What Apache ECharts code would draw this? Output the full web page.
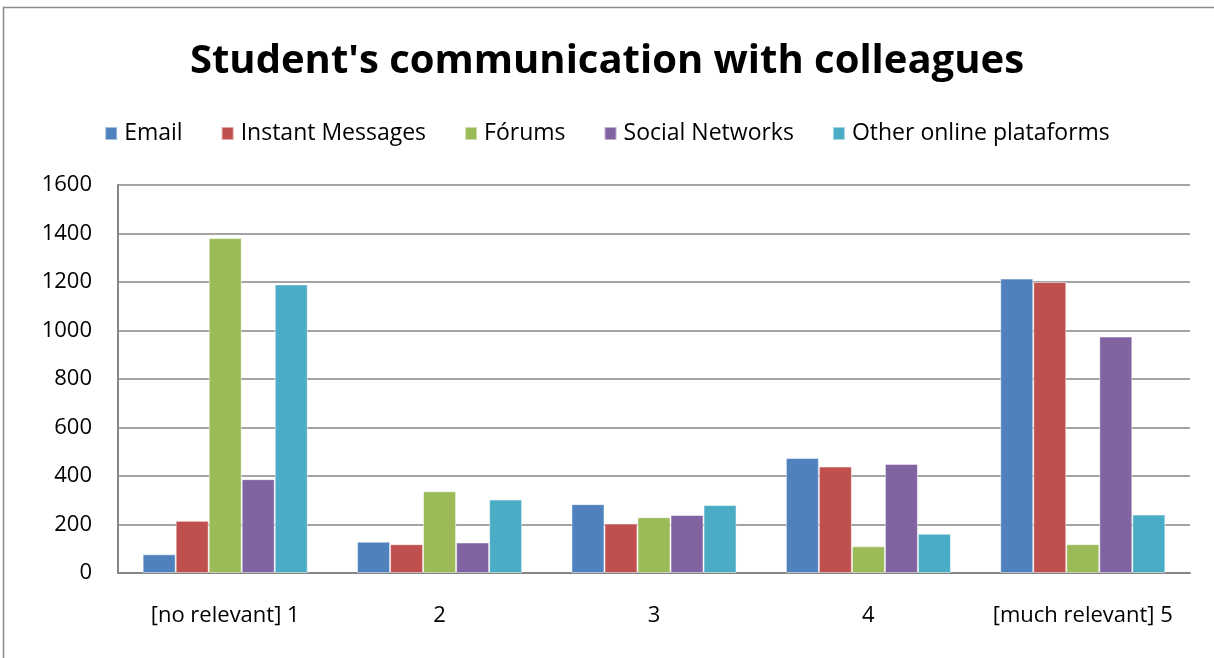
<!DOCTYPE html>
<html>
<head>
<meta charset="utf-8">
<script src="https://cdn.jsdelivr.net/npm/echarts@6/dist/echarts.min.js"></script>
<style>
  html, body { margin: 0; padding: 0; background: #fff; }
  #chart { width: 1214px; height: 658px; }
</style>
</head>
<body>
<div id="chart"></div>
<script>
// Relevance scale (1 = not relevant ... 5 = very relevant)
const categories = ['[no relevant] 1', '2', '3', '4', '[much relevant] 5'];

// Number of students per channel at each relevance level
const email          = [77, 129, 284, 474, 1214];
const instantMsg     = [215, 119, 204, 439, 1200];
const forums         = [1381, 337, 230, 110, 119];
const socialNetworks = [387, 126, 239, 450, 975];
const otherPlatforms = [1190, 303, 280, 162, 241];

const seriesNames = ['Email', 'Instant Messages', 'Fórums', 'Social Networks', 'Other online plataforms'];
const seriesColors = ['#4F81BD', '#C0504D', '#9BBB59', '#8064A2', '#4BACC6'];
const seriesData = [email, instantMsg, forums, socialNetworks, otherPlatforms];

const yTicks = { min: 0, max: 1600, interval: 200 };

const font = 'Open Sans, sans-serif';
const chart = echarts.init(document.getElementById('chart'), null, { renderer: 'canvas' });

chart.setOption({
  animation: false,
  backgroundColor: '#ffffff',
  graphic: [{
    type: 'rect',
    shape: { x: 3.5, y: 7.5, width: 1230, height: 670 },
    style: { fill: 'none', stroke: '#8a8a8a', lineWidth: 1.5 },
    silent: true
  }],
  title: {
    text: "Student's communication with colleagues",
    left: 'center',
    top: 37,
    textStyle: { fontFamily: font, fontWeight: 'bold', fontSize: 40, color: '#000' }
  },
  legend: {
    top: 117,
    left: 'center',
    itemWidth: 12,
    itemHeight: 13,
    itemGap: 38,
    icon: 'rect',
    textStyle: { fontFamily: font, fontSize: 23, color: '#000', padding: [0, 0, 0, 2] },
    data: seriesNames
  },
  grid: { left: 118, right: 24, top: 185, bottom: 85, containLabel: false },
  xAxis: {
    type: 'category',
    data: categories,
    axisLine: { lineStyle: { color: '#868686', width: 2 } },
    axisTick: { show: false },
    axisLabel: { interval: 0, fontFamily: font, fontSize: 22, color: '#000', margin: 32 }
  },
  yAxis: {
    type: 'value',
    min: yTicks.min,
    max: yTicks.max,
    interval: yTicks.interval,
    axisLine: { show: true, lineStyle: { color: '#868686', width: 2 } },
    axisTick: { show: false },
    splitLine: { lineStyle: { color: '#868686', width: 1.5 } },
    axisLabel: {
      fontFamily: font, fontSize: 22, color: '#000', margin: 26,
      formatter: v => String(v)
    }
  },
  series: seriesNames.map((name, i) => ({
    name: name,
    type: 'bar',
    data: seriesData[i],
    barGap: '0%',
    barCategoryGap: '23%',
    itemStyle: { color: seriesColors[i], borderColor: 'rgba(255,255,255,0.5)', borderWidth: 1 }
  }))
});
</script>
</body>
</html>
